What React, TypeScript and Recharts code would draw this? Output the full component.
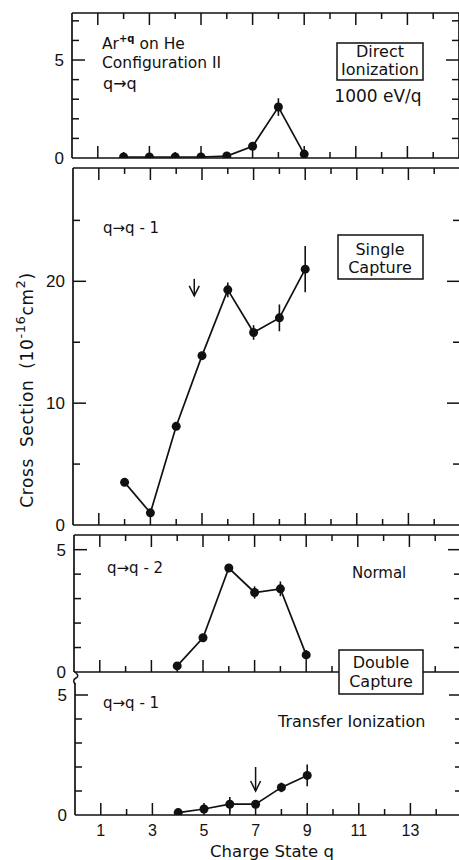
import { ComposedChart, Line, XAxis, YAxis, ErrorBar } from "recharts";

// Ar+q on He, Configuration II, 1000 eV/q
const directCharge = [2, 3, 4, 5, 6, 7, 8, 9];
const directIonization = [0.05, 0.05, 0.05, 0.05, 0.1, 0.6, 2.6, 0.2];
const directErr = [0, 0, 0, 0, 0, 0, 0.45, 0];

const singleCharge = [2, 3, 4, 5, 6, 7, 8, 9];
const singleCapture = [3.5, 1.0, 8.1, 13.9, 19.3, 15.8, 17.0, 21.0];
const singleErr = [0, 0, 0, 0, 0.6, 0.6, 1.1, 1.9];

const doubleCharge = [4, 5, 6, 7, 8, 9];
const normalCapture = [0.25, 1.4, 4.25, 3.25, 3.4, 0.7];
const normalErr = [0, 0, 0, 0.25, 0.3, 0.2];
const transferIonization = [0.1, 0.25, 0.45, 0.45, 1.15, 1.65];
const transferErr = [0, 0, 0.3, 0, 0.2, 0.45];

// arrows: [tail, tip]
const arrowSingle = [
  { q: 4.7, v: 20.2 },
  { q: 4.7, v: 18.8 },
];
const arrowTransfer = [
  { q: 7, v: 2.0 },
  { q: 7, v: 1.0 },
];

const xTicks = [1, 2, 3, 4, 5, 6, 7, 8, 9, 10, 11, 12, 13, 14];
const xLabels = [1, 3, 5, 7, 9, 11, 13];

const rows = (qs: number[], vs: number[], es: number[]) =>
  qs.map((q, i) => ({ q, v: vs[i], err: es[i] }));

const INK = "#111";
const TICK_FONT = "'Liberation Sans', Arial, sans-serif";
const FONT = "'DejaVu Sans', sans-serif";
const W = 470;

type Pt = { q: number; v: number };

type PanelProps = {
  left: number;
  top: number;
  bottom: number;
  yMax: number;
  yTicks: number[];
  yLabels: number[];
  data: { q: number; v: number; err: number }[];
  arrow?: Pt[];
  showTop: boolean;
  showXLabels: boolean;
};

const Panel = ({
  left,
  top,
  bottom,
  yMax,
  yTicks,
  yLabels,
  data,
  arrow,
  showTop,
  showXLabels,
}: PanelProps) => {
  const mt = 10;
  const mb = showXLabels ? 30 : 10;
  const topAxis = showTop ? 1 : 0;
  const h = bottom - top + mt + mb + 1 + topAxis;
  const axisLine = { stroke: INK, strokeWidth: 1.7 };

  const bottomTick = (p: any) => {
    const v = p.payload.value;
    const len = v % 2 === 1 ? 12 : 6;
    return (
      <g>
        <line x1={p.x} x2={p.x} y1={p.y} y2={p.y - len} stroke={INK} strokeWidth={1.5} />
        {showXLabels && xLabels.includes(v) && (
          <text x={p.x} y={p.y + 21} textAnchor="middle" fontSize={16} fontFamily={TICK_FONT} fill={INK}>
            {v}
          </text>
        )}
      </g>
    );
  };
  const topTick = (p: any) => {
    const len = p.payload.value % 2 === 1 ? 12 : 6;
    return <line x1={p.x} x2={p.x} y1={p.y} y2={p.y + len} stroke={INK} strokeWidth={1.5} />;
  };
  const leftTick = (p: any) => {
    const v = p.payload.value;
    const major = yLabels.includes(v);
    return (
      <g>
        {v > 0 && (
          <line x1={p.x} x2={p.x + (major ? 13 : 7)} y1={p.y} y2={p.y} stroke={INK} strokeWidth={1.5} />
        )}
        {major && (
          <text x={p.x - 8} y={p.y} dy={6} textAnchor="end" fontSize={17} fontFamily={TICK_FONT} fill={INK}>
            {v}
          </text>
        )}
      </g>
    );
  };
  const rightTick = (p: any) => {
    const v = p.payload.value;
    if (v <= 0) return <g />;
    const len = yLabels.includes(v) ? 13 : 7;
    return <line x1={p.x - len} x2={p.x} y1={p.y} y2={p.y} stroke={INK} strokeWidth={1.5} />;
  };
  const arrowHead = (p: any) => {
    if (p.index !== 1) return <g key={p.key} />;
    return (
      <path
        key={p.key}
        d={`M${p.cx - 5},${p.cy - 10} L${p.cx},${p.cy} L${p.cx + 5},${p.cy - 10}`}
        fill="none"
        stroke={INK}
        strokeWidth={1.5}
      />
    );
  };

  return (
    <div style={{ position: "absolute", left, top: top - mt - topAxis }}>
      <ComposedChart width={W} height={h} margin={{ top: mt, right: 7, bottom: mb, left: 0 }}>
        <XAxis
          xAxisId="b"
          dataKey="q"
          type="number"
          domain={[0, 15]}
          allowDataOverflow
          ticks={xTicks}
          interval={0}
          height={1}
          tickSize={0}
          tickMargin={0}
          tickLine={false}
          axisLine={axisLine}
          tick={bottomTick}
        />
        {showTop && (
          <XAxis
            xAxisId="t"
            orientation="top"
            dataKey="q"
            type="number"
            domain={[0, 15]}
            allowDataOverflow
            ticks={xTicks}
            interval={0}
            height={1}
            tickSize={0}
            tickMargin={0}
            tickLine={false}
            axisLine={axisLine}
            tick={topTick}
          />
        )}
        <YAxis
          yAxisId="l"
          type="number"
          domain={[0, yMax]}
          allowDataOverflow
          ticks={yTicks}
          interval={0}
          width={75}
          tickSize={0}
          tickMargin={0}
          tickLine={false}
          axisLine={axisLine}
          tick={leftTick}
        />
        <YAxis
          yAxisId="r"
          orientation="right"
          type="number"
          domain={[0, yMax]}
          allowDataOverflow
          ticks={yTicks}
          interval={0}
          width={1}
          tickSize={0}
          tickMargin={0}
          tickLine={false}
          axisLine={axisLine}
          tick={rightTick}
        />
        <Line
          xAxisId="b"
          yAxisId="l"
          data={data}
          dataKey="v"
          type="linear"
          stroke={INK}
          strokeWidth={1.7}
          dot={{ r: 4.5, fill: INK, stroke: INK, strokeWidth: 0 }}
          activeDot={false}
          isAnimationActive={false}
        >
          <ErrorBar dataKey="err" direction="y" width={0} stroke={INK} strokeWidth={1.6} />
        </Line>
        {arrow && (
          <Line
            xAxisId="b"
            yAxisId="l"
            data={arrow}
            dataKey="v"
            stroke={INK}
            strokeWidth={1.5}
            dot={arrowHead}
            activeDot={false}
            isAnimationActive={false}
          />
        )}
      </ComposedChart>
    </div>
  );
};

const T = (props: any) => <text fontFamily={FONT} fontSize={16} fill={INK} {...props} />;

const App = () => {
  return (
    <div
      style={{
        position: "absolute",
        left: 0,
        top: 0,
        width: 459,
        height: 860,
        overflow: "hidden",
        background: "#fff",
      }}
    >
      <Panel
        left={-3}
        top={13}
        bottom={158}
        yMax={7.4}
        yTicks={[0, 1, 2, 3, 4, 5, 6, 7]}
        yLabels={[0, 5]}
        data={rows(directCharge, directIonization, directErr)}
        showTop
        showXLabels={false}
      />
      <Panel
        left={-2}
        top={168}
        bottom={525}
        yMax={29.3}
        yTicks={[0, 5, 10, 15, 20, 25]}
        yLabels={[0, 10, 20]}
        data={rows(singleCharge, singleCapture, singleErr)}
        arrow={arrowSingle}
        showTop
        showXLabels={false}
      />
      <Panel
        left={-1}
        top={535}
        bottom={672}
        yMax={5.6}
        yTicks={[0, 1, 2, 3, 4, 5]}
        yLabels={[0, 5]}
        data={rows(doubleCharge, normalCapture, normalErr)}
        showTop
        showXLabels={false}
      />
      <Panel
        left={0}
        top={683}
        bottom={815}
        yMax={5.5}
        yTicks={[0, 1, 2, 3, 4, 5]}
        yLabels={[0, 5]}
        data={rows(doubleCharge, transferIonization, transferErr)}
        arrow={arrowTransfer}
        showTop={false}
        showXLabels
      />
      <svg
        width={459}
        height={860}
        style={{ position: "absolute", left: 0, top: 0, pointerEvents: "none" }}
      >
        {/* axis break between the two double-capture panels */}
        <path d="M75,684 Q72,680 76,678 Q80,676 75,672" fill="none" stroke={INK} strokeWidth={1.5} />

        <T x={102} y={49} fontSize={15.5}>
          Ar<tspan dy={-7} fontSize={10} fontWeight="bold">+q</tspan>
          <tspan dy={7}> on He</tspan>
        </T>
        <T x={102} y={68} fontSize={15.5}>Configuration II</T>
        <T x={103} y={89}>q→q</T>
        <rect x={337} y={43} width={86} height={37} fill="#fff" stroke={INK} strokeWidth={1.5} />
        <T x={380} y={57} textAnchor="middle">Direct</T>
        <T x={380} y={75} textAnchor="middle">Ionization</T>
        <T x={378} y={102} textAnchor="middle" fontSize={17}>1000 eV/q</T>

        <T x={103} y={233} fontSize={15}>q→q - 1</T>
        <rect x={338} y={235} width={85} height={44} fill="#fff" stroke={INK} strokeWidth={1.5} />
        <T x={380} y={255} textAnchor="middle">Single</T>
        <T x={380} y={273} textAnchor="middle">Capture</T>

        <T x={107} y={573} fontSize={15}>q→q - 2</T>
        <T x={352} y={578} fontSize={15}>Normal</T>
        <rect x={339} y={650} width={84} height={44} fill="#fff" stroke={INK} strokeWidth={1.5} />
        <T x={381} y={668} textAnchor="middle">Double</T>
        <T x={381} y={687} textAnchor="middle">Capture</T>

        <T x={103} y={708} fontSize={15}>q→q - 1</T>
        <T x={278} y={727}>Transfer Ionization</T>
        <T x={272} y={857} textAnchor="middle" fontSize={16.5}>Charge  State  q</T>

        <T
          transform="translate(33,390) rotate(-90)"
          textAnchor="middle"
          fontSize={17}
          letterSpacing={0.6}
          wordSpacing={5}
        >
          Cross Section (10<tspan dy={-8} fontSize={13}>-16</tspan>
          <tspan dy={8}>cm</tspan>
          <tspan dy={-8} fontSize={13}>2</tspan>
          <tspan dy={8}>)</tspan>
        </T>
      </svg>
    </div>
  );
};

export default App;
